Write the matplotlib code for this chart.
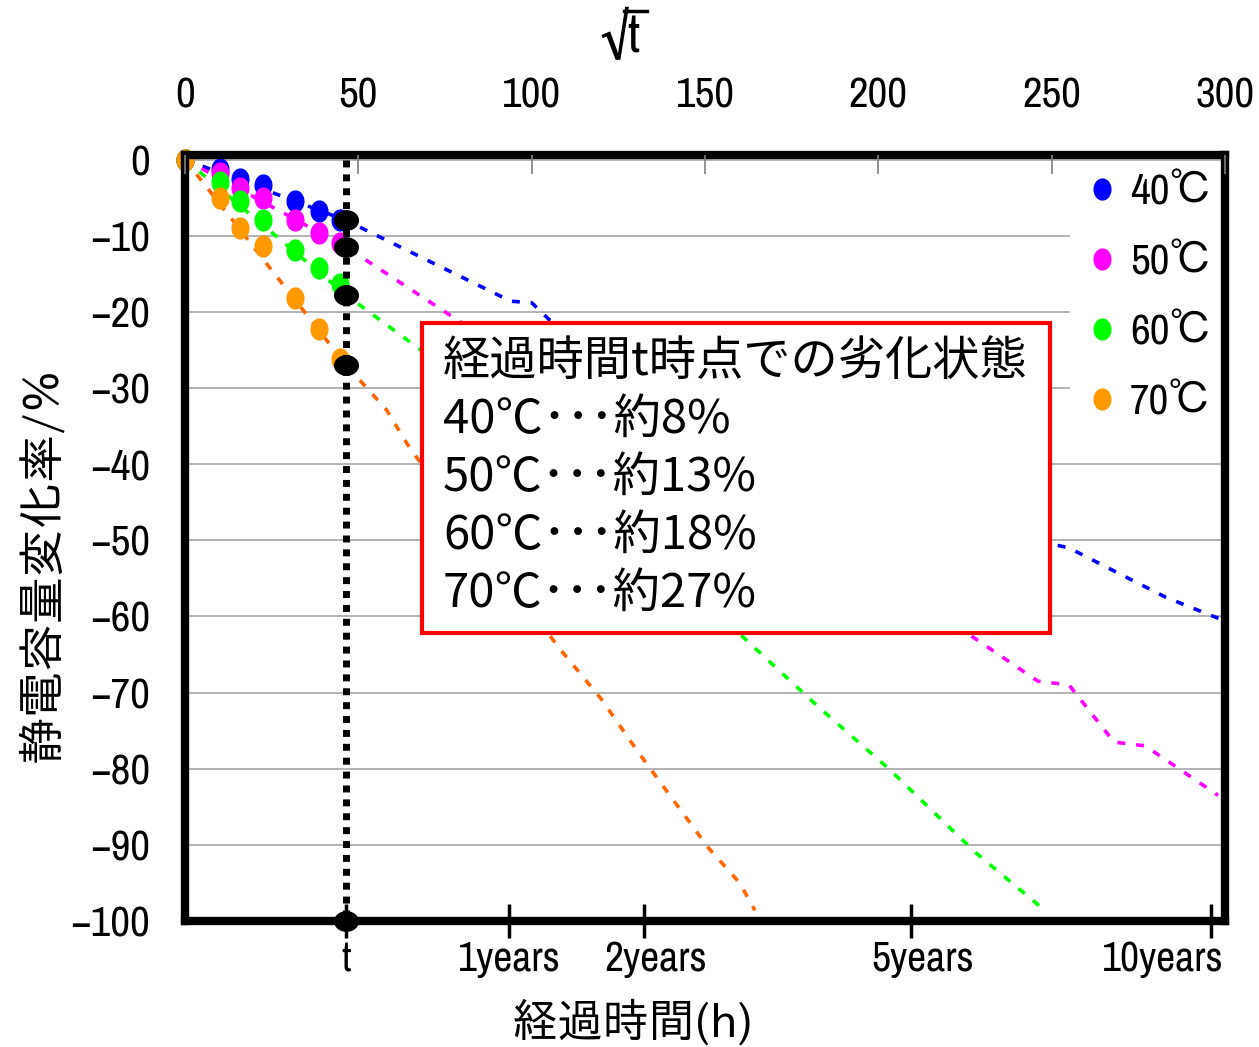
import numpy as np
import matplotlib.pyplot as plt
from matplotlib.path import Path
from matplotlib.patches import Rectangle
from matplotlib.lines import Line2D
from matplotlib.transforms import ScaledTranslation

NARROW = ['Archivo Narrow', 'IPAPGothic', 'Noto Sans CJK JP', 'DejaVu Sans']
GOTHIC = ['IPAPGothic', 'Noto Sans CJK JP', 'DejaVu Sans']
CJK = ['Noto Sans CJK JP', 'DejaVu Sans']
plt.rcParams['font.family'] = NARROW

# measurement times (h) and capacitance change (%)
hours = [0, 100, 250, 500, 1000, 1500, 2000]
cap_40 = [0, -1.3, -2.6, -3.3, -5.5, -6.8, -7.9]
cap_50 = [0, -1.7, -3.7, -5.0, -7.9, -9.6, -10.9]
cap_60 = [0, -3.0, -5.5, -7.9, -11.9, -14.2, -16.4]
cap_70 = [0, -5.0, -9.0, -11.3, -18.2, -22.3, -26.2]

# extrapolated trend lines, x in sqrt(h)
fit_40_x = [0, 46.5, 94, 100, 105, 150, 200, 247, 255, 270, 283, 300]
fit_40_y = [0, -8.0, -18.6, -18.8, -21.0, -30.5, -40.5, -50.2, -51.0, -54.5, -57.5, -60.6]
fit_50_x = [0, 46.5, 76, 150, 200, 225, 246, 255, 268, 277, 298]
fit_50_y = [0, -11.5, -20.3, -42.0, -56.0, -62.0, -68.5, -69.0, -76.5, -77.0, -83.5]
fit_60_x = [0, 46.5, 68, 160, 183, 203, 228, 248]
fit_60_y = [0, -17.8, -25.0, -62.3, -72.0, -80.0, -91.0, -98.6]
fit_70_x = [0, 46.5, 58, 65, 108, 120, 131, 151, 160, 164.4]
fit_70_y = [0, -27.0, -32.8, -38.0, -64.2, -70.8, -78.0, -90.4, -95.0, -98.6]

t_point = 46.5
t_values = [-8.0, -11.5, -17.8, -27.0, -100.0]

labels = ['40℃', '50℃', '60℃', '70℃']
dot_colors = ['#0000FF', '#FF00FF', '#00FF00', '#FF9900']
line_colors = ['#0000FF', '#FF00FF', '#00FF00', '#FF6600']

year_hours = [8760, 17520, 43800, 87600]
year_labels = ['1years', '2years', '5years', '10years']

box_lines = ['経過時間t時点での劣化状態',
             '40℃･･･約8%',
             '50℃･･･約13%',
             '60℃･･･約18%',
             '70℃･･･約27%']

ang = np.linspace(0, 2 * np.pi, 60)
tall_dot = Path(np.column_stack([0.4 * np.cos(ang), 0.5 * np.sin(ang)]), closed=True)
wide_dot = Path(np.column_stack([0.5 * np.cos(ang), 0.41 * np.sin(ang)]), closed=True)

fig = plt.figure(figsize=(12.59, 10.47), dpi=100)
ax = fig.add_axes([185 / 1259, 126 / 1047, 1040 / 1259, 766 / 1047])

x_meas = np.sqrt(hours)
series = [cap_40, cap_50, cap_60, cap_70]
fits = [(fit_40_x, fit_40_y), (fit_50_x, fit_50_y), (fit_60_x, fit_60_y), (fit_70_x, fit_70_y)]
for (fx, fy), lc in zip(fits, line_colors):
    ax.plot(fx, fy, color=lc, lw=2.6, ls=(0, (2.2, 3)), zorder=3)
for vals, dc, lab in zip(series, dot_colors, labels):
    ax.plot(x_meas, vals, ls='none', marker=tall_dot, ms=15, color=dc,
            label=lab, zorder=4, clip_on=False)

ax.plot([t_point, t_point], [0, -100], color='black', lw=5, ls=(0, (1, 1)), zorder=5)
ax.plot([t_point] * len(t_values), t_values, ls='none', marker=wide_dot, ms=17,
        color='black', zorder=6, clip_on=False)

ax.set_xlim(0, 300)
ax.set_ylim(-100, 0.6)
ax.set_yticks(range(-100, 1, 10))
ax.yaxis.grid(True, color='#A6A6A6', lw=1.2)
ax.set_axisbelow(True)
ax.tick_params(axis='y', length=0, pad=25, labelsize=31)

ax.set_xticks([t_point] + list(np.sqrt(year_hours)))
ax.set_xticklabels(['t'] + year_labels)
ax.tick_params(axis='x', direction='inout', length=24, width=2.5, pad=2, labelsize=30)
shifts = [0, 0, 12, 12, -48]
for lab, dx in zip(ax.get_xticklabels(), shifts):
    lab.set_transform(lab.get_transform() + ScaledTranslation(dx / 100, 0, fig.dpi_scale_trans))

for sp in ax.spines.values():
    sp.set_linewidth(6)
    sp.set_capstyle('projecting')
    sp.set_zorder(10)

ax2 = ax.twiny()
ax2.set_xlim(0, 300)
ax2.set_xticks(range(0, 301, 50))
ax2.tick_params(axis='x', direction='in', length=14, width=1.2, color='#808080',
                pad=29, labelsize=31)
for sp in ax2.spines.values():
    sp.set_visible(False)

leg = ax.legend(loc='upper right', bbox_to_anchor=(0.997, 0.99), frameon=True,
                fancybox=False, framealpha=1, edgecolor='white', fontsize=31,
                handletextpad=0.15, labelspacing=0.74, handlelength=1.0,
                borderpad=0.25, borderaxespad=0)
leg.set_zorder(7)

ax.add_patch(Rectangle((0.228, 0.376), 0.604, 0.405, transform=ax.transAxes,
                       facecolor='white', edgecolor='#FF0000', lw=3, zorder=8))
for i, line in enumerate(box_lines):
    ax.text(0.248, 0.730 - 0.0755 * i, line, transform=ax.transAxes, fontsize=34,
            family=CJK, va='center', ha='left', zorder=9)

# top axis title: square root of t with an overline
fig.text(620 / 1259, 1 - 35 / 1047, '√t', fontsize=38,
         family=['Archivo Narrow', 'DejaVu Sans'], ha='center', va='center')
fig.add_artist(Line2D([624 / 1259, 647 / 1259], [1 - 11 / 1047, 1 - 11 / 1047],
                      color='black', lw=2.5, transform=fig.transFigure))

fig.text(633 / 1259, 1 - 1022 / 1047, '経過時間(h)', fontsize=33, family=GOTHIC,
         ha='center', va='center')
fig.text(42 / 1259, 1 - 565 / 1047, '静電容量変化率/%', fontsize=34, family=GOTHIC,
         rotation=90, ha='center', va='center')

fig.savefig('out.png', dpi=100)
